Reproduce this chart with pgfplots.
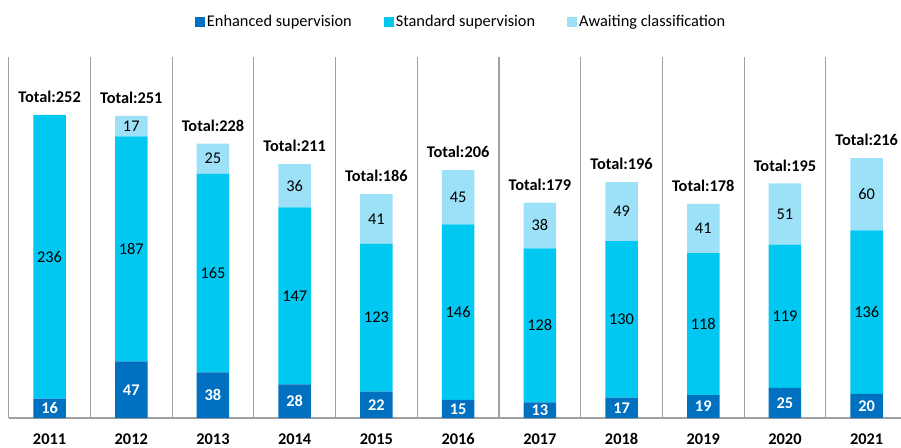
\documentclass[border=0pt]{standalone}
\usepackage{pgfplots}
\pgfplotsset{compat=1.18}
\usepackage{pgfplotstable}
\usepackage{fontspec}
\setmainfont{Carlito}

\definecolor{enh}{HTML}{0070C0}
\definecolor{std}{HTML}{00C8F0}
\definecolor{awt}{HTML}{9DE1F8}
\definecolor{sep}{HTML}{A0A0A0}

% year index, enhanced, standard, awaiting, total
\pgfplotstableread{
x  enh std awt tot
0  16  236 0   252
1  47  187 17  251
2  38  165 25  228
3  28  147 36  211
4  22  123 41  186
5  15  146 45  206
6  13  128 38  179
7  17  130 49  196
8  19  118 41  178
9  25  119 51  195
10 20  136 60  216
}\supdata

\pgfplotsset{
  base/.style={
    scale only axis,
    width=892.3bp, height=361bp,
    xmin=-0.5, xmax=10.42, ymin=0, ymax=300,
    /pgf/number format/assume math mode=true,
    point meta=explicit,
  },
  seglabel/.style={
    nodes near coords={\pgfmathfloatifflags{\pgfplotspointmeta}{0}{}{\pgfmathprintnumber{\pgfplotspointmeta}}},
    every node near coord/.append style={anchor=center},
  },
}

\begin{document}
\fontsize{16.4}{19}\selectfont
\begin{tikzpicture}
\begin{axis}[
  base,
  ybar stacked, bar width=32.5bp,
  axis x line*=bottom, axis y line*=left,
  axis line style={draw=sep, line width=1.3bp},
  ytick=\empty,
  xtick={0,1,2,3,4,5,6,7,8,9,10},
  xticklabels={2011,2012,2013,2014,2015,2016,2017,2018,2019,2020,2021},
  major tick length=0pt,
  minor xtick={0.5,1.5,2.5,3.5,4.5,5.5,6.5,7.5,8.5,9.5},
  minor tick length=0pt,
  xminorgrids,
  minor grid style={draw=sep, line width=1.2bp},
  xticklabel style={font=\bfseries, anchor=base, inner sep=0pt, yshift=-26.5bp},
  legend columns=3,
  legend style={draw=none, fill=none, at={(0.507,1)}, anchor=center, yshift=35bp,
    /tikz/column 2/.style={column sep=30bp},
    /tikz/column 4/.style={column sep=30bp}},
  legend image code/.code={\fill[#1,draw=none] (0bp,-5bp) rectangle (10bp,5bp);},
]
\addplot[fill=enh, draw=none, seglabel,
  every node near coord/.append style={text=white, font=\bfseries}]
  table[x=x, y=enh, meta=enh]{\supdata};
\addlegendentry{Enhanced supervision}
\addplot[fill=std, draw=none, seglabel]
  table[x=x, y=std, meta=std]{\supdata};
\addlegendentry{Standard supervision}
\addplot[fill=awt, draw=none, seglabel]
  table[x=x, y=awt, meta=awt]{\supdata};
\addlegendentry{Awaiting classification}
\end{axis}
% totals above the bars, same geometry, no stacking
\begin{axis}[base, hide axis]
\addplot[draw=none, mark=none,
  nodes near coords={Total:\pgfmathprintnumber{\pgfplotspointmeta}},
  every node near coord/.append style={font=\bfseries, anchor=center, yshift=18bp}]
  table[x=x, y=tot, meta=tot]{\supdata};
\end{axis}
\pgfresetboundingbox
\path ([xshift=-8.7bp, yshift=-29.5bp]current axis.south west) rectangle ([yshift=57bp]current axis.north east);
\end{tikzpicture}
\end{document}
